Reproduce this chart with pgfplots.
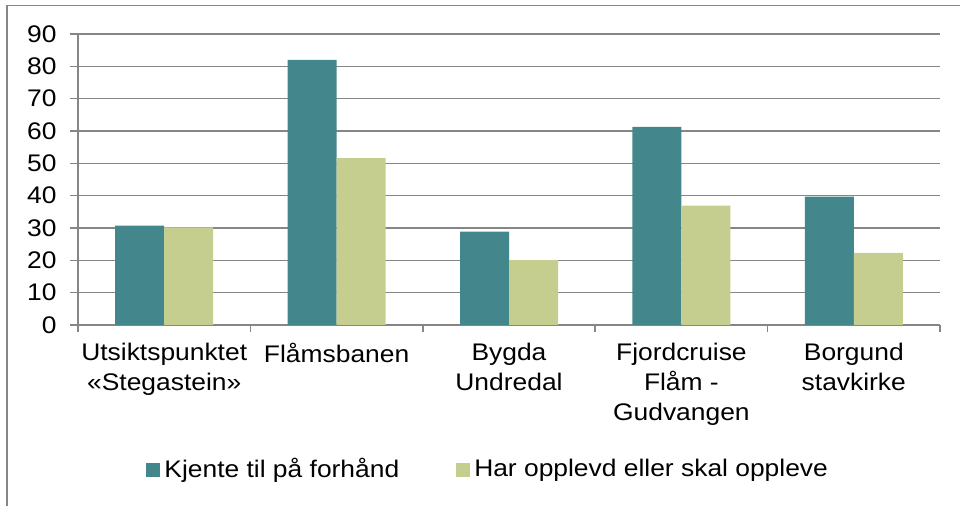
\documentclass[border=0pt]{standalone}
\usepackage{fontspec}
\setmainfont{Liberation Sans}[FakeStretch=1.1]
\usepackage{pgfplots}
\pgfplotsset{compat=1.18}
\definecolor{teal1}{RGB}{67,135,140}
\definecolor{green1}{RGB}{198,206,143}
\definecolor{gridgray}{RGB}{134,134,134}
\begin{document}
\fontsize{12}{15}\selectfont
\begin{tikzpicture}
\begin{axis}[
  at={(39pt,-162.5pt)}, anchor=south west,
  scale only axis, width=431pt, height=145.5pt,
  ybar=0pt, bar width=24.5pt,
  xmin=-0.5, xmax=4.5, ymin=0, ymax=90,
  ytick={0,10,...,90},
  xtick={0,1,2,3,4},
  xticklabels={Utsiktspunktet\\«Stegastein», Flåmsbanen, Bygda\\Undredal, Fjordcruise\\Flåm -\\Gudvangen, Borgund\\stavkirke},
  minor xtick={-0.5,0.5,1.5,2.5,3.5,4.5},
  major x tick style={draw=none},
  axis x line*=bottom, axis y line*=left,
  axis line style={gridgray, line width=0.75pt, -},
  tick style={gridgray, line width=0.75pt},
  tick align=outside, major tick length=4pt, minor tick length=3.5pt,
  ymajorgrids, grid style={gridgray, line width=0.75pt},
  /pgf/number format/assume math mode=true,
  xticklabel style={align=center, font=\fontsize{12}{15}\selectfont, text depth=0pt, yshift=-1pt},
  yticklabel style={font=\fontsize{12}{15}\selectfont, xshift=-2.5pt},
  legend columns=2,
  legend cell align=left,
  legend style={draw=none, at={(0.477,-0.498)}, anchor=center, font=\fontsize{12}{15}\selectfont,
    /tikz/every even column/.append style={column sep=26.5pt}},
  every axis plot post/.append style={legend image code/.code={\fill[##1,draw=none] (0pt,-3.5pt) rectangle (7pt,3.5pt);}},
]
\addplot[fill=teal1, draw=none] coordinates {(0,30.7) (1,82) (2,28.9) (3,61.3) (4,39.7)};
\addplot[fill=green1, draw=none] coordinates {(0,30.2) (1,51.6) (2,20.1) (3,36.9) (4,22.3)};
\legend{Kjente til på forhånd, Har opplevd eller skal oppleve}
\end{axis}
\draw[gridgray, line width=0.75pt] (3.6pt,-253pt) -- (3.6pt,-2.8pt) -- (480pt,-2.8pt);
\pgfresetboundingbox
\path[use as bounding box] (0,0) rectangle (480pt,-253pt);
\end{tikzpicture}
\end{document}
